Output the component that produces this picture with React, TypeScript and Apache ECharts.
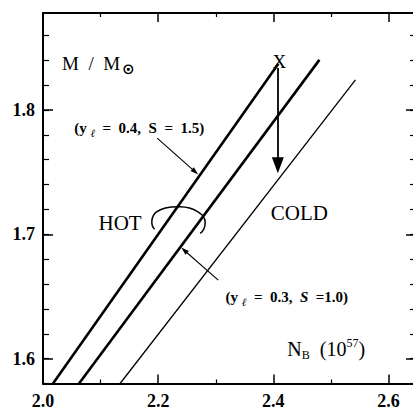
import React, { useEffect, useRef } from 'react';
import * as echarts from 'echarts';

const FONT = "'Liberation Serif', 'DejaVu Serif', 'Times New Roman', serif";

// axes
const xRange = [2.0, 2.646];
const yRange = [1.58, 1.878];
const xMajorTicks = [2.0, 2.2, 2.4, 2.6];
const xMinorTicks = [2.1, 2.3, 2.5];
const yMajorTicks = [1.6, 1.7, 1.8];
const yMinorTicks = [1.58, 1.6, 1.62, 1.64, 1.66, 1.68, 1.7, 1.72, 1.74, 1.76, 1.78, 1.8, 1.82, 1.84, 1.86];

// curves (N_B, M/Msun)
const hot04 = [[2.0174, 1.58], [2.4087, 1.8371]]; // (y_l = 0.4, S = 1.5)
const hot03 = [[2.0626, 1.58], [2.48, 1.8403]]; // (y_l = 0.3, S = 1.0)
const coldLine = [[2.1339, 1.58], [2.5426, 1.8242]];

// annotations (data coordinates)
const xMark = [2.4104, 1.8391];
const coolingArrow = [[2.4078, 1.8338], [2.4078, 1.7555]];
const note1Arrow = [[2.1983, 1.7774], [2.2643, 1.7502]];
const note2Arrow = [[2.3043, 1.6631], [2.2452, 1.6872]];
const massLabelPos = [2.033, 1.8371];
const note1Pos = [2.167, 1.7855];
const note2Pos = [2.4235, 1.6494];
const hotPos = [2.1339, 1.709];
const coldPos = [2.4452, 1.717];
const nbPos = [2.4243, 1.6079];
const loopPos = [2.2348, 1.7114];

const LOOP_D =
  'M -23.7 9 C -28 5 -27 -4 -22 -8 C -15 -13 -5 -13.5 2 -13.3 C 15 -13 27 -6 27 2 C 27 7 25 11 22 13.3';

let registered = false;

export default function App() {
  const ref = useRef<HTMLDivElement>(null);
  useEffect(() => {
    if (!ref.current) return;
    if (!registered) {
      echarts.graphic.registerShape('hotLoop', echarts.graphic.extendPath(LOOP_D, {}) as any);
      registered = true;
    }
    const chart = echarts.init(ref.current, null, { renderer: 'svg' });
    const black = '#000';
    const xBase = {
      type: 'value',
      min: xRange[0],
      max: xRange[1],
      splitLine: { show: false },
    };
    const yBase = {
      type: 'value',
      min: yRange[0],
      max: yRange[1],
      splitLine: { show: false },
    };
    const labelStyle = {
      color: black,
      fontFamily: FONT,
      fontSize: 18,
      fontWeight: 'bold',
      margin: 8,
    };
    const lineSeries = (data: number[][], width: number) => ({
      type: 'line',
      data,
      symbol: 'none',
      xAxisIndex: 0,
      yAxisIndex: 0,
      lineStyle: { color: black, width },
      silent: true,
    });
    chart.setOption({
      animation: false,
      backgroundColor: '#fff',
      grid: { left: 43, top: 13, right: 2, bottom: 28.5, outerBoundsMode: 'none', containLabel: false },
      xAxis: [
        {
          ...xBase,
          position: 'bottom',
          axisLine: { onZero: false, lineStyle: { color: black, width: 2 } },
          axisTick: { inside: true, length: 9, customValues: xMajorTicks, lineStyle: { color: black, width: 1.5 } },
          axisLabel: { ...labelStyle, customValues: xMajorTicks, formatter: (v: number) => v.toFixed(1) },
        },
        {
          ...xBase,
          position: 'bottom',
          axisLine: { show: false, onZero: false },
          axisTick: { inside: true, length: 4, customValues: xMinorTicks, lineStyle: { color: black, width: 1.2 } },
          axisLabel: { show: false },
        },
        {
          ...xBase,
          position: 'top',
          axisLine: { onZero: false, lineStyle: { color: black, width: 2 } },
          axisTick: { inside: true, length: 9, customValues: xMajorTicks, lineStyle: { color: black, width: 1.5 } },
          axisLabel: { show: false },
        },
        {
          ...xBase,
          position: 'top',
          axisLine: { show: false, onZero: false },
          axisTick: { inside: true, length: 4, customValues: xMinorTicks, lineStyle: { color: black, width: 1.2 } },
          axisLabel: { show: false },
        },
      ],
      yAxis: [
        {
          ...yBase,
          position: 'left',
          axisLine: { onZero: false, lineStyle: { color: black, width: 2 } },
          axisTick: { inside: true, length: 10, customValues: yMajorTicks, lineStyle: { color: black, width: 1.5 } },
          axisLabel: { ...labelStyle, customValues: yMajorTicks, formatter: (v: number) => v.toFixed(1) },
        },
        {
          ...yBase,
          position: 'left',
          axisLine: { show: false, onZero: false },
          axisTick: { inside: true, length: 6, customValues: yMinorTicks, lineStyle: { color: black, width: 1.2 } },
          axisLabel: { show: false },
        },
        {
          ...yBase,
          position: 'right',
          axisLine: { onZero: false, lineStyle: { color: black, width: 2 } },
          axisTick: { inside: true, length: 9, customValues: yMajorTicks, lineStyle: { color: black, width: 1.5 } },
          axisLabel: { show: false },
        },
        {
          ...yBase,
          position: 'right',
          axisLine: { show: false, onZero: false },
          axisTick: { inside: true, length: 5, customValues: yMinorTicks, lineStyle: { color: black, width: 1.2 } },
          axisLabel: { show: false },
        },
      ],
      series: [
        lineSeries(hot04, 2.6),
        lineSeries(hot03, 2.6),
        lineSeries(coldLine, 1.3),
        {
          type: 'lines',
          coordinateSystem: 'cartesian2d',
          xAxisIndex: 0,
          yAxisIndex: 0,
          data: [{ coords: coolingArrow }],
          symbol: ['none', 'triangle'],
          symbolSize: [0, [12, 16]],
          lineStyle: { color: black, width: 1.8, opacity: 1 },
          itemStyle: { color: black },
          silent: true,
        },
        {
          type: 'lines',
          coordinateSystem: 'cartesian2d',
          xAxisIndex: 0,
          yAxisIndex: 0,
          data: [{ coords: note1Arrow }, { coords: note2Arrow }],
          symbol: ['none', 'triangle'],
          symbolSize: [0, [5, 8]],
          lineStyle: { color: black, width: 1.1, opacity: 1 },
          itemStyle: { color: black },
          silent: true,
        },
      ],
    });

    const px = (p: number[]) => chart.convertToPixel({ seriesIndex: 0 }, p) as number[];
    const base = { fontFamily: FONT, fill: black };
    const txt = (p: number[], style: any) => {
      const [x, y] = px(p);
      return { type: 'text', x, y, silent: true, style: { ...base, verticalAlign: 'middle', ...style } };
    };
    const m = px(massLabelPos);
    const nb = px(nbPos);
    const loop = px(loopPos);
    chart.setOption({
      graphic: [
        {
          type: 'text',
          x: m[0],
          y: m[1],
          silent: true,
          style: {
            text: '{a|M  /  M}{b|⊙}',
            align: 'left',
            verticalAlign: 'middle',
            rich: {
              a: { fontFamily: FONT, fontSize: 19, fill: black },
              b: { fontFamily: "'DejaVu Sans', " + FONT, fontSize: 15, fontWeight: 'bold', fill: black, padding: [11, 0, 0, 2] },
            },
          },
        },
        txt(note1Pos, {
          text: '{a|(y }{s|ℓ}{a|  =  0.4,  S  =  1.5)}',
          align: 'center',
          rich: {
            a: { fontFamily: FONT, fontSize: 15, fontWeight: 'bold', fill: black },
            s: { fontFamily: FONT, fontSize: 11, fontStyle: 'italic', fill: black, padding: [10, 0, 0, 0] },
          },
        }),
        txt(note2Pos, {
          text: '{a|(y }{s|ℓ}{a|  =  0.3,  }{i|S}{a|  =1.0)}',
          align: 'center',
          rich: {
            a: { fontFamily: FONT, fontSize: 15, fontWeight: 'bold', fill: black },
            i: { fontFamily: FONT, fontSize: 15, fontWeight: 'bold', fontStyle: 'italic', fill: black },
            s: { fontFamily: FONT, fontSize: 11, fontStyle: 'italic', fill: black, padding: [10, 0, 0, 0] },
          },
        }),
        txt(hotPos, { text: 'HOT', align: 'center', fontSize: 21 }),
        txt(coldPos, { text: 'COLD', align: 'center', fontSize: 21 }),
        txt(xMark, { text: 'X', align: 'center', fontSize: 19 }),
        {
          type: 'text',
          x: nb[0],
          y: nb[1],
          silent: true,
          style: {
            text: '{a|N}{b|B}{a|  (10}{c|57}{a|)}',
            align: 'left',
            verticalAlign: 'middle',
            rich: {
              a: { fontFamily: FONT, fontSize: 20, fill: black },
              b: { fontFamily: FONT, fontSize: 12, fill: black, padding: [13, 0, 0, 0] },
              c: { fontFamily: FONT, fontSize: 12, fill: black, padding: [0, 0, 11, 0] },
            },
          },
        },
        {
          type: 'hotLoop',
          x: loop[0],
          y: loop[1],
          silent: true,
          style: { stroke: black, fill: null, lineWidth: 1.5 },
        },
      ],
    });
    return () => chart.dispose();
  }, []);
  return (
    <div style={{ position: 'absolute', left: 0, top: 0, width: 413, height: 412, overflow: 'hidden' }}>
      <div ref={ref} style={{ width: 417, height: 412 }} />
    </div>
  );
}
